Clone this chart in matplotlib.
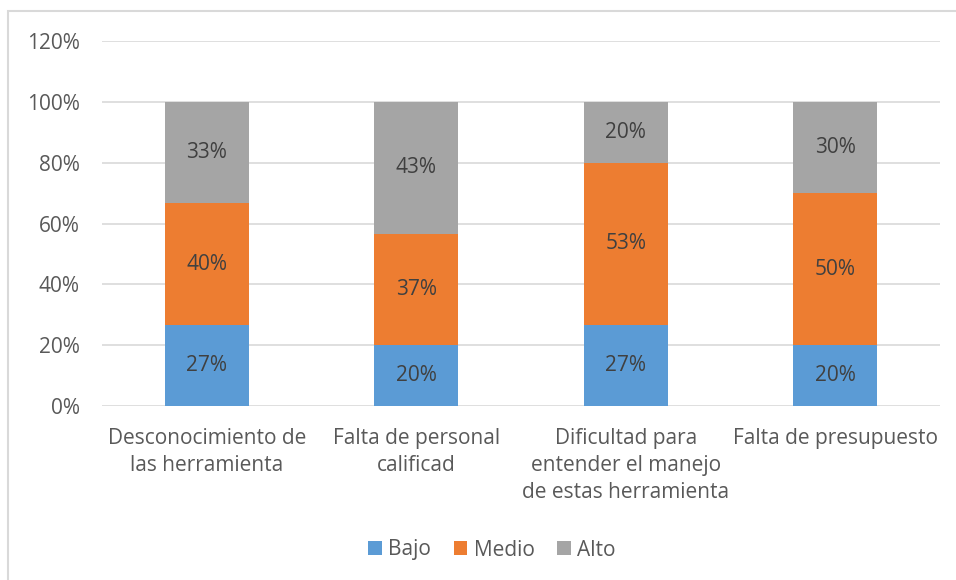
import matplotlib.pyplot as plt
from matplotlib.patches import Rectangle

plt.rcParams['font.family'] = ['Open Sans', 'DejaVu Sans']

categorias = ["Desconocimiento de\nlas herramienta",
              "Falta de personal\ncalificad",
              "Dificultad para\nentender el manejo\nde estas herramienta",
              "Falta de presupuesto"]
bajo = [26.67, 20.0, 26.67, 20.0]
medio = [40.0, 36.67, 53.33, 50.0]
alto = [33.33, 43.33, 20.0, 30.0]
series = [("Bajo", bajo, "#5B9BD5"), ("Medio", medio, "#ED7D31"), ("Alto", alto, "#A5A5A5")]
yticks = [0, 20, 40, 60, 80, 100, 120]

texto = "#595959"
fs = 15

fig = plt.figure(figsize=(9.56, 5.8), dpi=100)
ax = fig.add_axes([102 / 956, 1 - 406 / 580, 838 / 956, 365 / 580])

x = range(len(categorias))
base = [0] * len(categorias)
for nombre, vals, color in series:
    ax.bar(x, vals, 0.4, bottom=base, color=color, label=nombre, zorder=2)
    for i, v in enumerate(vals):
        ax.text(i, base[i] + v / 2, f"{round(v)}%", ha="center", va="center",
                fontsize=fs, color="#404040", zorder=3)
    base = [b + v for b, v in zip(base, vals)]

ax.set_xlim(-0.5, 3.5)
ax.set_ylim(0, 120)
ax.set_yticks(yticks)
ax.set_yticklabels([f"{t}%" for t in yticks])
ax.set_xticks(list(x))
ax.set_xticklabels(categorias, linespacing=1.38)
ax.tick_params(axis="both", length=0, labelsize=fs, labelcolor=texto)
ax.tick_params(axis="y", pad=16)
ax.tick_params(axis="x", pad=16)
for s in ax.spines.values():
    s.set_visible(False)
ax.grid(axis="y", color="#D9D9D9", linewidth=1.2, zorder=0)
ax.set_axisbelow(True)

ax.legend(loc="center", bbox_to_anchor=(492 / 956, 1 - 550 / 580),
          bbox_transform=fig.transFigure, ncol=3, frameon=False,
          fontsize=fs, labelcolor=texto, handlelength=0.65, handleheight=0.65,
          handletextpad=0.3, columnspacing=1.1)

# borde del área del gráfico
fig.patches.append(Rectangle((8 / 956, -0.1), 1.2, 1 - 11 / 580 + 0.1,
                             transform=fig.transFigure, fill=False,
                             edgecolor="#D9D9D9", linewidth=1.5))

fig.savefig("out.png", dpi=100)
